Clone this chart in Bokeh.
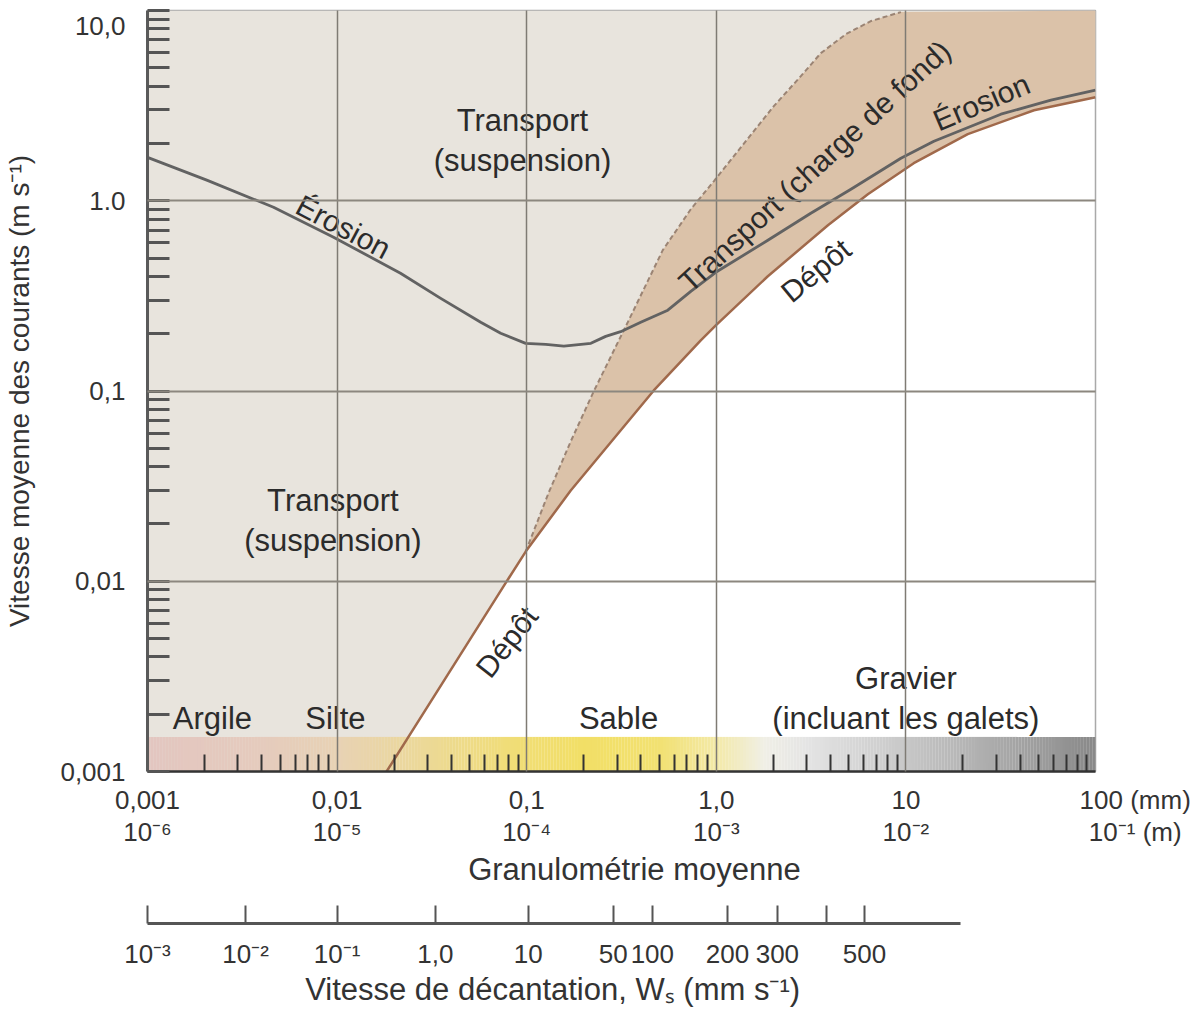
import numpy as np
from bokeh.plotting import figure
from bokeh.models import FixedTicker, LogAxis, Range1d
from bokeh.embed import file_html
from bokeh.resources import INLINE
from bokeh.core.properties import value

FONT = "Liberation Sans"
TXT = "#2b2b2b"

# ---------------- data (grain size in mm, mean current velocity in m/s) ----------------
erosion_d = [0.001, 0.00207, 0.00462, 0.00958, 0.0216, 0.0352, 0.0572, 0.0729, 0.0988, 0.126,
             0.157, 0.218, 0.261, 0.313, 0.3995, 0.555, 0.7336, 0.994, 1.87, 3.15, 5.13, 9.41,
             14.05, 31.7, 58.2, 100.0]
erosion_v = [1.69, 1.28, 0.924, 0.643, 0.416, 0.307, 0.2296, 0.201, 0.178, 0.1758,
             0.172, 0.178, 0.1937, 0.205, 0.2296, 0.266, 0.334, 0.4206, 0.620, 0.860, 1.149, 1.673,
             2.056, 2.851, 3.379, 3.814]

depot_d = [0.01824, 0.0775, 0.0988, 0.1707, 0.468, 0.828, 0.994, 1.87, 3.88, 6.30,
           11.0, 21.2, 47.4, 100.0]
depot_v = [0.001, 0.0098, 0.01432, 0.030, 0.1007, 0.1846, 0.2213, 0.401, 0.743, 1.082,
           1.575, 2.24, 2.99, 3.50]

bedload_d = [0.0988, 0.1307, 0.1707, 0.2258, 0.3412, 0.522, 0.7336, 0.970, 1.299, 2.011,
             2.792, 3.560, 4.825, 6.536, 9.41]
bedload_v = [0.01432, 0.02928, 0.0543, 0.0996, 0.2298, 0.5498, 0.902, 1.266, 1.821, 3.142,
             4.517, 5.970, 7.513, 8.799, 9.81]

size_ticks = [0.001, 0.01, 0.1, 1.0, 10.0, 100.0]
size_labels_mm = ["0,001", "0,01", "0,1", "1,0", "10", "100 (mm)"]
size_labels_m = ["10⁻⁶", "10⁻⁵", "10⁻⁴", "10⁻³", "10⁻²", "10⁻¹ (m)"]

vel_ticks = [0.001, 0.01, 0.1, 1.0, 10.0]
vel_labels = ["0,001", "0,01", "0,1", "1.0", "10,0"]

# settling velocity scale (positions given as grain size, mm)
ws_pos = [0.001, 0.00329, 0.01, 0.033, 0.102, 0.286, 0.46, 1.146, 2.10, 3.81, 6.05]
ws_labels = ["10⁻³", "10⁻²", "10⁻¹", "1,0", "10", "50", "100", "200", "300", "", "500"]
ws_end = 19.4

class_names = ["Argile", "Silte", "Sable", "Gravier", "(incluant les galets)"]
class_x = [0.0022, 0.0098, 0.305, 10.0, 10.0]
class_y = [0.00191, 0.00191, 0.00191, 0.0031, 0.00191]

region_names = ["Transport", "(suspension)", "Transport", "(suspension)"]
region_x = [0.095, 0.095, 0.0095, 0.0095]
region_y = [2.65, 1.63, 0.0265, 0.0163]

curve_names = ["Érosion", "Érosion", "Transport (charge de fond)", "Dépôt", "Dépôt"]
curve_x = [0.0108, 25.0, 3.3, 3.35, 0.0785]
curve_y = [0.73, 3.3, 1.52, 0.43, 0.0048]
curve_angle_deg = [-28, 23, 42.5, 39.5, 52]

# bottom colour strip (grain-size classes)
strip_top = 0.00152
strip_stops_d = [0.001, 0.004, 0.01, 0.03, 0.08, 0.2, 0.5, 1.0, 1.8, 3.0, 8.0, 20.0, 50.0, 100.0]
strip_stops_c = ["#e3c6c0", "#e5cbbd", "#e8d2b4", "#ecd996", "#f0dd78", "#f2df66", "#f2e172",
                 "#f3e9a8", "#f0efe6", "#e4e4e4", "#cdcdcd", "#b5b5b5", "#9d9d9d", "#888888"]

BEIGE = "#e8e4dd"
TAN = "#dbc2a9"

# ---------------- figure ----------------
p = figure(x_axis_type="log", y_axis_type="log",
           x_range=Range1d(0.001, 100), y_range=Range1d(0.001, 10),
           frame_width=948, frame_height=761,
           min_border_left=147, min_border_right=100, min_border_top=10, min_border_bottom=0,
           output_backend="svg", toolbar_location=None,
           background_fill_color="white", border_fill_color="white")
p.outline_line_color = "#a9a9a9"
p.outline_line_width = 1.5

# beige area (everything above the deposition curve)
beige_x = [0.001] + depot_d + [100.0, 0.001]
beige_y = [0.001] + depot_v + [10.0, 10.0]
p.patch(beige_x, beige_y, fill_color=BEIGE, line_color=None)

# tan band (bed-load transport) between dashed line and deposition curve
dep_hi = [(d, v) for d, v in zip(depot_d, depot_v) if d >= bedload_d[0]]
tan_x = bedload_d + [100.0] + [d for d, v in reversed(dep_hi)]
tan_y = bedload_v + [10.0] + [v for d, v in reversed(dep_hi)]
p.patch(tan_x, tan_y, fill_color=TAN, line_color=None)

# colour strip
def hex2rgb(h):
    return np.array([int(h[i:i + 2], 16) for i in (1, 3, 5)], dtype=float)

edges = np.logspace(-3, 2, 321)
mids = np.sqrt(edges[:-1] * edges[1:])
lstops = np.log10(strip_stops_d)
rgb = np.array([hex2rgb(c) for c in strip_stops_c])
cols = []
for m in np.log10(mids):
    r, g, b = (np.interp(m, lstops, rgb[:, k]) for k in range(3))
    cols.append("#%02x%02x%02x" % (int(round(r)), int(round(g)), int(round(b))))
p.quad(left=edges[:-1], right=edges[1:] * 1.002, bottom=0.001, top=strip_top,
       fill_color=cols, line_color=None)

# curves
p.line(bedload_d, bedload_v, line_color="#9b8474", line_width=2, line_dash="5 3")
p.line(depot_d, depot_v, line_color="#a0694b", line_width=2.5, line_join="round")
p.line(erosion_d, erosion_v, line_color="#626262", line_width=2.8, line_join="round")

# texts in the plot
tf = value(FONT)
p.text(x=region_x, y=region_y, text=region_names, text_font=tf, text_font_size="31px",
       text_color=TXT, text_align="center", text_baseline="middle")
p.text(x=class_x, y=class_y, text=class_names, text_font=tf, text_font_size="31px",
       text_color=TXT, text_align="center", text_baseline="middle")
p.text(x=curve_x, y=curve_y, text=curve_names, angle=[np.deg2rad(a) for a in curve_angle_deg],
       text_font=tf, text_font_size="30px", text_color=TXT,
       text_align="center", text_baseline="middle")

# grid
p.xgrid.ticker = FixedTicker(ticks=size_ticks[1:-1])
p.ygrid.ticker = FixedTicker(ticks=vel_ticks[1:-1])
p.xgrid.grid_line_color = "#7f7b74"
p.xgrid.grid_line_width = 1.5
p.ygrid.grid_line_color = "#8c877f"
p.ygrid.grid_line_width = 2
p.xgrid.level = "overlay"
p.ygrid.level = "overlay"

# minor ticks
minor_y = [k * 10.0 ** e for e in range(-3, 1) for k in range(2, 10)]
minor_x = [k * 10.0 ** e for e in range(-3, 2) for k in range(2, 10)]

# y axis (top label pushed a little below the frame edge)
ylabels = list(vel_labels)
ylabels[-1] = "\u00a0\n" + vel_labels[-1]
ya = p.yaxis[0]
ya.ticker = FixedTicker(ticks=vel_ticks, minor_ticks=minor_y)
ya.major_label_overrides = dict(zip(vel_ticks, ylabels))
ya.major_tick_in = 22
ya.major_tick_out = 0
ya.minor_tick_in = 22
ya.minor_tick_out = 0
ya.major_tick_line_width = 3
ya.minor_tick_line_width = 3
ya.major_tick_line_color = "#555555"
ya.minor_tick_line_color = "#555555"
ya.axis_line_color = "#5a5a5a"
ya.axis_line_width = 3
ya.major_label_standoff = 22
ya.major_label_text_font = FONT
ya.major_label_text_font_size = "26px"
ya.major_label_text_line_height = 0.35
ya.major_label_text_color = "#333333"
ya.axis_label = "Vitesse moyenne des courants (m s⁻¹)"
ya.axis_label_text_font = FONT
ya.axis_label_text_font_size = "28px"
ya.axis_label_text_font_style = "normal"
ya.axis_label_text_color = "#333333"
ya.axis_label_standoff = 22

# x axis (grain size)
pad = "\u00a0" * 11
xlabels = [f"{a}\n{b}" for a, b in zip(size_labels_mm, size_labels_m)]
xlabels[-1] = f"{pad}{size_labels_mm[-1]}\n{pad}{size_labels_m[-1]}"
xa = p.xaxis[0]
xa.ticker = FixedTicker(ticks=size_ticks, minor_ticks=minor_x)
xa.major_label_overrides = dict(zip(size_ticks, xlabels))
xa.major_tick_in = 0
xa.major_tick_out = 0
xa.minor_tick_in = 17
xa.minor_tick_out = 0
xa.minor_tick_line_width = 2
xa.minor_tick_line_color = "#333333"
xa.axis_line_color = "#333333"
xa.axis_line_width = 2.5
xa.major_label_standoff = 13
xa.major_label_text_font = FONT
xa.major_label_text_font_size = "26px"
xa.major_label_text_line_height = 1.08
xa.major_label_text_color = "#333333"
xa.axis_label = "\u00a0\u00a0\u00a0Granulométrie moyenne\n\u00a0"
xa.axis_label_text_font = FONT
xa.axis_label_text_font_size = "31px"
xa.axis_label_text_line_height = 0.95
xa.axis_label_text_font_style = "normal"
xa.axis_label_text_color = "#333333"
xa.axis_label_standoff = 2

# settling-velocity axis
wa = LogAxis(ticker=FixedTicker(ticks=ws_pos, minor_ticks=[]),
             bounds=(ws_pos[0], ws_end),
             major_label_overrides=dict(zip(ws_pos, ws_labels)))
wa.major_tick_in = 18
wa.major_tick_out = 0
wa.major_tick_line_width = 2
wa.major_tick_line_color = "#555555"
wa.minor_tick_in = 0
wa.minor_tick_out = 0
wa.axis_line_color = "#555555"
wa.axis_line_width = 3
wa.major_label_standoff = 15
wa.major_label_text_font = FONT
wa.major_label_text_font_size = "26px"
wa.major_label_text_color = "#333333"
wa.axis_label = "Vitesse de décantation, Wₛ (mm s⁻¹)" + "\u00a0" * 16
wa.axis_label_text_font = FONT
wa.axis_label_text_font_size = "31px"
wa.axis_label_text_line_height = 1.0
wa.axis_label_text_font_style = "normal"
wa.axis_label_text_color = "#333333"
wa.axis_label_standoff = 0
p.add_layout(wa, "below")

open("out.html", "w").write(file_html(p, INLINE))
